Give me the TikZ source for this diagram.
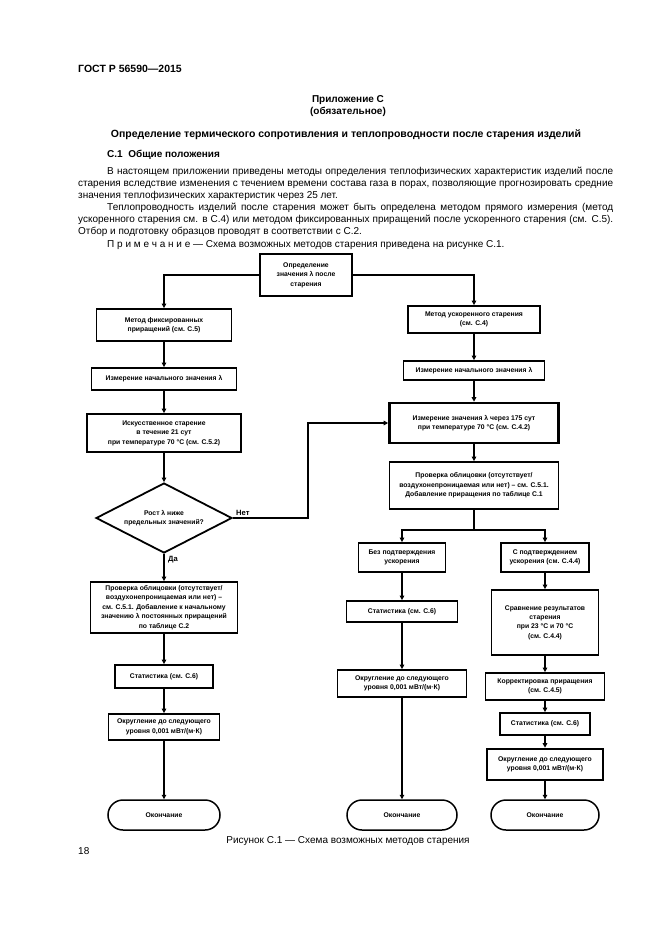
\documentclass[tikz,border=0pt]{standalone}
\usepackage{fontspec}
\setmainfont{Liberation Sans}
\usetikzlibrary{shapes.geometric,arrows.meta}
\newcommand\fbx{\fontsize{6.8}{9.4}\selectfont\bfseries}
\newcommand\bodyf{\fontsize{10}{12}\selectfont}
\begin{document}
\begin{tikzpicture}[x=1pt,y=-1pt,
  fbox/.style={draw, line width=1.8pt, align=center, inner sep=0pt, font=\fbx},
  thickbox/.style={fbox, line width=2.6pt},
  endbox/.style={fbox, line width=1.5pt, rounded corners=15pt},
  dia/.style={draw, diamond, line width=1.8pt, align=center, inner sep=0pt, font=\fbx, minimum width=136pt, minimum height=70pt, aspect=1.94},
  link/.style={line width=1.9pt},
  conn/.style={line width=1.9pt, -{Triangle[length=4.5pt,width=4.5pt]}},
  lbl/.style={inner sep=0pt, font=\fontsize{7.6}{9}\selectfont\bfseries},
  bline/.style={anchor=base west, inner sep=0pt, font=\bodyf},
  ctext/.style={anchor=base, inner sep=0pt, align=center}
]
\useasboundingbox (0,0) rectangle (661,935);
\fill[white] (0,0) rectangle (661,935);

% header text
\node[bline, font=\fontsize{10.5}{12}\selectfont\bfseries] (gost) at (78,72) {ГОСТ Р 56590—2015};
\node[ctext, font=\fontsize{10}{12}\selectfont\bfseries] (app) at (348,102) {Приложение С};
\node[ctext, font=\fontsize{10}{12}\selectfont\bfseries] (oblig) at (348,114) {(обязательное)};
\node[ctext, font=\fontsize{10.5}{12}\selectfont\bfseries] (head) at (346,137) {Определение термического сопротивления и теплопроводности после старения изделий};
\node[bline, font=\fontsize{10}{12}\selectfont\bfseries] (sec) at (107,157) {С.1\ \ Общие положения};

\node[bline] (p1) at (107,174) {\makebox[506pt][s]{В настоящем приложении приведены методы определения теплофизических характеристик изделий после}};
\node[bline] (p2) at (78,186) {\makebox[535pt][s]{старения вследствие изменения с течением времени состава газа в порах, позволяющие прогнозировать средние}};
\node[bline] (p3) at (78,198) {значения теплофизических характеристик через 25 лет.};
\node[bline] (p4) at (107,210) {\makebox[506pt][s]{Теплопроводность изделий после старения может быть определена методом прямого измерения (метод}};
\node[bline] (p5) at (78,222) {\makebox[535pt][s]{ускоренного старения см. в С.4) или методом фиксированных приращений после ускоренного старения (см. С.5).}};
\node[bline] (p6) at (78,234) {Отбор и подготовку образцов проводят в соответствии с С.2.};
\node[bline] (note) at (107,247) {П р и м е ч а н и е — Схема возможных методов старения приведена на рисунке С.1.};

% flowchart nodes
\node[fbox, minimum width=92pt, minimum height=42pt] (top) at (306,275) {Определение\\значения λ после\\старения};

\node[fbox, minimum width=135pt, minimum height=32pt] (L1) at (164,325) {Метод фиксированных\\приращений (см. С.5)};
\node[fbox, minimum width=145pt, minimum height=22pt] (L2) at (164,379) {Измерение начального значения λ};
\node[fbox, minimum width=154pt, minimum height=38pt] (L3) at (164,433) {Искусственное старение\\в течение 21 сут\\при температуре 70 °С (см. С.5.2)};
\node[dia] (D) at (164,518) {Рост λ ниже\\предельных значений?};
\node[fbox, minimum width=147pt, minimum height=51pt] (L4) at (164,607.5) {Проверка облицовки (отсутствует/\\воздухонепроницаемая или нет) –\\см. С.5.1. Добавление к начальному\\значению λ постоянных приращений\\по таблице С.2};
\node[fbox, minimum width=98pt, minimum height=23pt] (L5) at (164,676.5) {Статистика (см. С.6)};
\node[fbox, minimum width=111pt, minimum height=26pt] (L6) at (164,727) {Округление до следующего\\уровня 0,001 мВт/(м·К)};
\node[endbox, minimum width=112pt, minimum height=30pt] (L7) at (164,815) {Окончание};

\node[fbox, minimum width=132pt, minimum height=27pt] (R1) at (474,319.5) {Метод ускоренного старения\\(см. С.4)};
\node[fbox, minimum width=141pt, minimum height=19pt] (R2) at (474,370.5) {Измерение начального значения λ};
\node[thickbox, minimum width=169pt, minimum height=40pt] (R3) at (474,423) {Измерение значения λ через 175 сут\\при температуре 70 °С (см. С.4.2)};
\node[fbox, minimum width=169pt, minimum height=47pt] (R4) at (474,485.5) {Проверка облицовки (отсутствует/\\воздухонепроницаемая или нет) – см. С.5.1.\\Добавление приращения по таблице С.1};
\coordinate (S) at (474,530);

\node[fbox, minimum width=87pt, minimum height=29pt] (R5a) at (402,557.5) {Без подтверждения\\ускорения};
\node[fbox, minimum width=111pt, minimum height=21pt] (R6a) at (402,611.5) {Статистика (см. С.6)};
\node[fbox, minimum width=129pt, minimum height=27pt] (R7a) at (402,683.5) {Округление до следующего\\уровня 0,001 мВт/(м·К)};
\node[endbox, minimum width=110pt, minimum height=30pt] (R8a) at (402,815) {Окончание};

\node[fbox, minimum width=88pt, minimum height=29pt] (R5b) at (545,557.5) {С подтверждением\\ускорения (см. С.4.4)};
\node[fbox, minimum width=107pt, minimum height=65pt] (R6b) at (545,622.5) {Сравнение результатов\\старения\\при 23 °С и 70 °С\\(см. С.4.4)};
\node[fbox, minimum width=119pt, minimum height=27pt] (R7b) at (545,686.5) {Корректировка приращения\\(см. С.4.5)};
\node[fbox, minimum width=90pt, minimum height=22pt] (R8b) at (545,724) {Статистика (см. С.6)};
\node[thickbox, minimum width=116pt, minimum height=31pt] (R9b) at (545,764.5) {Округление до следующего\\уровня 0,001 мВт/(м·К)};
\node[endbox, minimum width=108pt, minimum height=30pt] (R10b) at (545,815) {Окончание};

% labels
\node[lbl, anchor=south west] (no) at (236,516) {Нет};
\node[lbl, anchor=west] (yes) at (168,560) {Да};

% connectors
\draw[conn] (top.west) -| (L1.north);
\draw[conn] (top.east) -| (R1.north);
\draw[conn] (L1) -- (L2);
\draw[conn] (L2) -- (L3);
\draw[conn] (L3) -- (D);
\draw[conn] (D) -- (L4);
\draw[conn] (L4) -- (L5);
\draw[conn] (L5) -- (L6);
\draw[conn] (L6) -- (L7);
\draw[conn] (D.east) -- ++(75,0) |- (R3.west);
\draw[conn] (R1) -- (R2);
\draw[conn] (R2) -- (R3);
\draw[conn] (R3) -- (R4);
\draw[link] (R4.south) -- (S);
\draw[conn] (S) -| (R5a.north);
\draw[conn] (S) -| (R5b.north);
\draw[conn] (R5a) -- (R6a);
\draw[conn] (R6a) -- (R7a);
\draw[conn] (R7a) -- (R8a);
\draw[conn] (R5b) -- (R6b);
\draw[conn] (R6b) -- (R7b);
\draw[conn] (R7b) -- (R8b);
\draw[conn] (R8b) -- (R9b);
\draw[conn] (R9b) -- (R10b);

% caption and page number
\node[ctext, font=\bodyf] (cap) at (348,843) {Рисунок С.1 — Схема возможных методов старения};
\node[bline] (page) at (78,854) {18};
\end{tikzpicture}
\end{document}
